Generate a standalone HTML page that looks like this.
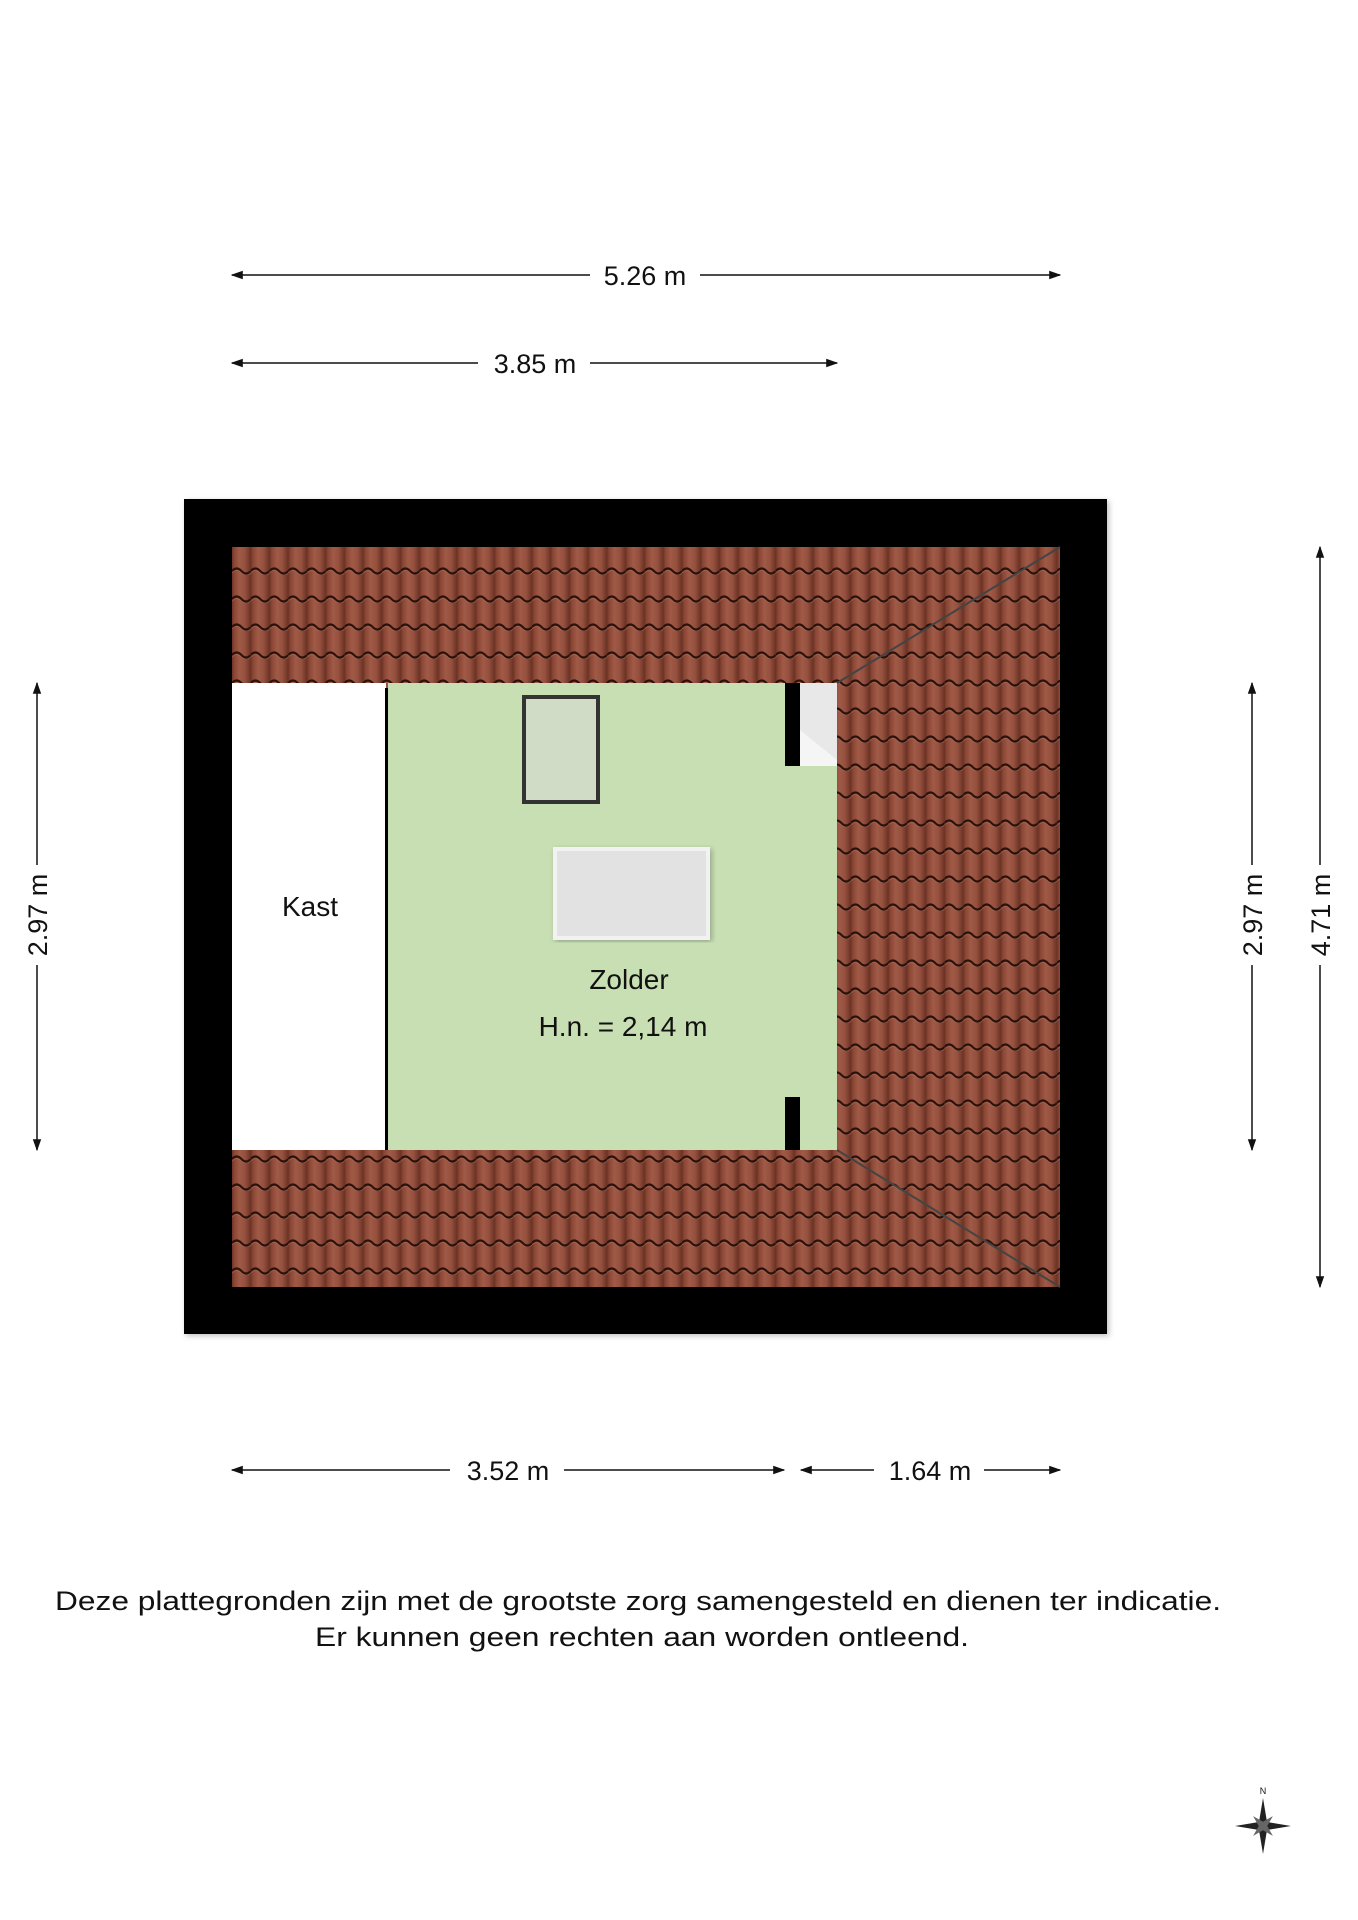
<!DOCTYPE html>
<html><head><meta charset="utf-8"><style>
html,body{margin:0;padding:0;background:#fff}
svg{display:block}
text{font-family:"Liberation Sans",Arial,sans-serif;fill:#111}
</style></head><body>
<svg width="1358" height="1920" viewBox="0 0 1358 1920" xmlns="http://www.w3.org/2000/svg">
<defs>
<linearGradient id="tg" x1="0" x2="1" y1="0" y2="0">
<stop offset="0" stop-color="#6e3426"/><stop offset="0.12" stop-color="#8a4634"/><stop offset="0.4" stop-color="#a05a47"/><stop offset="0.7" stop-color="#95503e"/><stop offset="1" stop-color="#6a3224"/>
</linearGradient>
<pattern id="tiles" x="232" y="547" width="18.75" height="28" patternUnits="userSpaceOnUse">
<rect width="18.75" height="28" fill="url(#tg)"/>
<path d="M0,24 q4.7,-5 9.4,0 t9.4,0" stroke="#2a120c" stroke-width="2.2" fill="none"/>
<path d="M0,26 q4.7,-5 9.4,0 t9.4,0" stroke="#b0705c" stroke-width="1" fill="none" opacity="0.5"/>
</pattern>
<filter id="sh" x="-5%" y="-5%" width="110%" height="110%"><feDropShadow dx="2" dy="2" stdDeviation="3" flood-opacity="0.25"/></filter>
<marker id="ar" viewBox="0 0 10 10" refX="9" refY="5" markerWidth="12" markerHeight="12" orient="auto-start-reverse" markerUnits="userSpaceOnUse">
<path d="M0,1.5 L10,5 L0,8.5 z" fill="#111"/></marker>
</defs>

<rect x="184" y="499" width="923" height="835" fill="#000" filter="url(#sh)"/>
<rect x="232" y="547" width="828" height="740" fill="url(#tiles)"/>
<rect x="232" y="683" width="154" height="467" fill="#fff"/>
<rect x="385" y="688" width="3" height="462" fill="#000"/>
<rect x="388" y="683" width="449" height="467" fill="#c8dfb3"/>
<rect x="800" y="683" width="37" height="83" fill="#e8e8e8"/>
<path d="M800,730 L837,760 L837,766 L800,766z" fill="#f5f5f5"/>
<rect x="785" y="683" width="15" height="83" fill="#000"/>
<rect x="785" y="1097" width="15" height="53" fill="#000"/>
<rect x="524" y="697" width="74" height="105" fill="#d0dcc6" stroke="#333" stroke-width="4"/>
<rect x="555" y="849" width="153" height="89" fill="#e2e2e2" stroke="#f2f2f2" stroke-width="4" filter="url(#sh)"/>
<line x1="837" y1="683" x2="1060" y2="547" stroke="#444" stroke-width="2"/>
<line x1="837" y1="1150" x2="1060" y2="1287" stroke="#444" stroke-width="2"/>

<text x="310" y="916" font-size="28" text-anchor="middle">Kast</text>
<text x="629" y="989" font-size="28" text-anchor="middle">Zolder</text>
<text x="623" y="1036" font-size="28" text-anchor="middle">H.n. = 2,14 m</text>

<g stroke="#111" stroke-width="1.5">
<line x1="232" y1="275" x2="590" y2="275" marker-start="url(#ar)"/>
<line x1="700" y1="275" x2="1060" y2="275" marker-end="url(#ar)"/>
<line x1="232" y1="363" x2="478" y2="363" marker-start="url(#ar)"/>
<line x1="590" y1="363" x2="837" y2="363" marker-end="url(#ar)"/>
<line x1="232" y1="1470" x2="450" y2="1470" marker-start="url(#ar)"/>
<line x1="564" y1="1470" x2="784" y2="1470" marker-end="url(#ar)"/>
<line x1="801" y1="1470" x2="874" y2="1470" marker-start="url(#ar)"/>
<line x1="984" y1="1470" x2="1060" y2="1470" marker-end="url(#ar)"/>
<line x1="37" y1="683" x2="37" y2="865" marker-start="url(#ar)"/>
<line x1="37" y1="965" x2="37" y2="1150" marker-end="url(#ar)"/>
<line x1="1252" y1="683" x2="1252" y2="865" marker-start="url(#ar)"/>
<line x1="1252" y1="965" x2="1252" y2="1150" marker-end="url(#ar)"/>
<line x1="1320" y1="547" x2="1320" y2="865" marker-start="url(#ar)"/>
<line x1="1320" y1="965" x2="1320" y2="1287" marker-end="url(#ar)"/>
</g>
<g font-size="27" text-anchor="middle">
<text x="645" y="285">5.26 m</text>
<text x="535" y="373">3.85 m</text>
<text x="508" y="1480">3.52 m</text>
<text x="930" y="1480">1.64 m</text>
<text transform="translate(47,915) rotate(-90)">2.97 m</text>
<text transform="translate(1262,915) rotate(-90)">2.97 m</text>
<text transform="translate(1330,915) rotate(-90)">4.71 m</text>
</g>

<text x="638" y="1610" font-size="27" text-anchor="middle" textLength="1166" lengthAdjust="spacingAndGlyphs">Deze plattegronden zijn met de grootste zorg samengesteld en dienen ter indicatie.</text>
<text x="642" y="1646" font-size="27" text-anchor="middle" textLength="654" lengthAdjust="spacingAndGlyphs">Er kunnen geen rechten aan worden ontleend.</text>

<g transform="translate(1263,1826)">
<path d="M0,-28 L4,-4 L28,0 L4,4 L0,28 L-4,4 L-28,0 L-4,-4z" fill="#222"/>
<path d="M0,-14 L3,-3 L14,0 L3,3 L0,14 L-3,3 L-14,0 L-3,-3z" fill="#666" transform="rotate(45)"/>
<text x="0" y="-32" font-size="9" text-anchor="middle">N</text>
</g>
</svg>
</body></html>
